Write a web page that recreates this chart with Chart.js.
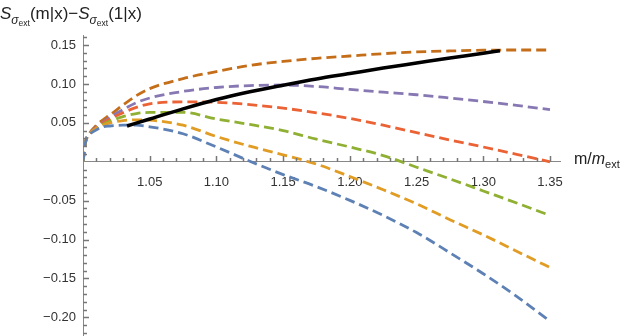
<!DOCTYPE html>
<html>
<head>
<meta charset="utf-8">
<script src="https://cdn.jsdelivr.net/npm/chart.js@4.4.0/dist/chart.umd.min.js"></script>
<style>
  body { margin: 0; background: #fff; }
  #wrap { position: relative; width: 630px; height: 336px; font-family: "Liberation Sans", Arial, sans-serif; color: #222; }
  #c { position: absolute; left: 0; top: 0; }
  .ttl { position: absolute; white-space: nowrap; font-size: 17px; line-height: 1; }
  .sub1 { font-size: 12px; position: relative; top: 5px; font-style: italic; }
  .sub2 { font-size: 8.5px; position: relative; top: 2px; font-style: normal; }
  .subx { font-size: 11px; position: relative; top: 4px; }
</style>
</head>
<body>
<div id="wrap">
  <canvas id="c" width="630" height="336"></canvas>
  <div class="ttl" style="left:0px; top:5px;"><i>S</i><span class="sub1">σ<span class="sub2">ext</span></span>(m|x)−<i>S</i><span class="sub1">σ<span class="sub2">ext</span></span>(1|x)</div>
  <div class="ttl" style="left:574px; top:151px; font-size:16px;">m/<i>m</i><span class="subx">ext</span></div>
</div>
<script>
const xValues = [1.0, 1.002, 1.005, 1.01, 1.015, 1.02, 1.03, 1.04, 1.05, 1.075, 1.10, 1.125, 1.15, 1.175, 1.20, 1.225, 1.25, 1.275, 1.30, 1.325, 1.35];

const blueVals   = [0, 0.026, 0.035, 0.041, 0.045, 0.046, 0.047, 0.047, 0.045, 0.036, 0.019, 0.0007, -0.0165, -0.032, -0.0496, -0.069, -0.091, -0.117, -0.144, -0.173, -0.205];
const orangeVals = [0, 0.026, 0.036, 0.043, 0.047, 0.050, 0.053, 0.054, 0.0535, 0.047, 0.0325, 0.020, 0.009, -0.003, -0.019, -0.036, -0.054, -0.0745, -0.094, -0.115, -0.136];
const greenVals  = [0, 0.026, 0.036, 0.043, 0.048, 0.052, 0.058, 0.062, 0.0635, 0.0635, 0.055, 0.048, 0.040, 0.029, 0.019, 0.008, -0.007, -0.022, -0.0375, -0.053, -0.069];
const redVals    = [0, 0.026, 0.036, 0.044, 0.050, 0.055, 0.063, 0.070, 0.0745, 0.077, 0.0765, 0.0735, 0.069, 0.063, 0.0557, 0.047, 0.0375, 0.028, 0.019, 0.0095, 0.0];
const purpleVals = [0, 0.026, 0.036, 0.045, 0.051, 0.057, 0.067, 0.076, 0.082, 0.0905, 0.0955, 0.098, 0.0987, 0.0968, 0.093, 0.0895, 0.0862, 0.082, 0.0775, 0.0725, 0.067];
const brownVals  = [0, 0.026, 0.037, 0.047, 0.054, 0.060, 0.073, 0.085, 0.094, 0.107, 0.116, 0.124, 0.129, 0.133, 0.136, 0.139, 0.1412, 0.1425, 0.1435, 0.1437, 0.1437];

// solid black curve
const blackX = [1.033, 1.05, 1.075, 1.10, 1.125, 1.15, 1.175, 1.20, 1.225, 1.25, 1.275, 1.30, 1.3125];
const blackY = [0.046, 0.055, 0.068, 0.080, 0.090, 0.0985, 0.1065, 0.1135, 0.1205, 0.127, 0.1335, 0.1395, 0.1428];

// tick labels
const xTicks = [1.05, 1.10, 1.15, 1.20, 1.25, 1.30, 1.35];
const yTicks = [-0.20, -0.15, -0.10, -0.05, 0.05, 0.10, 0.15];

const seriesColors = ["#5E81B5", "#E19C24", "#8FB032", "#EB6235", "#8778B3", "#C56E1A"];
const seriesVals = [blueVals, orangeVals, greenVals, redVals, purpleVals, brownVals];

const axisColor = "#888888";

// toPoints pairs x positions with values
function toPoints(xs, ys) {
  return xs.map((x, i) => ({ x: x, y: ys[i] }));
}

// Mathematica-style inward ticks (major + minor) on both axes
const tickMarks = {
  id: "tickMarks",
  afterDraw(chart) {
    const ctx = chart.ctx;
    const xs = chart.scales.x;
    const ys = chart.scales.y;
    const y0 = Math.round(ys.getPixelForValue(0));
    const x0 = Math.round(xs.getPixelForValue(1.0));
    ctx.save();
    ctx.fillStyle = "#777777";
    for (let i = 1; i <= 35; i++) {
      const px = Math.round(xs.getPixelForValue(1 + i / 100));
      const len = i % 5 === 0 ? 6 : 4;
      ctx.fillRect(px - 0.25, y0 - len, 1.5, len);
    }
    for (let j = -22; j <= 16; j++) {
      if (j === 0) continue;
      const py = Math.round(ys.getPixelForValue(j / 100));
      const len = j % 5 === 0 ? 6 : 4;
      ctx.fillRect(x0, py - 0.25, len, 1.5);
    }
    ctx.restore();
  },
};

const datasets = seriesVals.map((vals, i) => ({
  data: toPoints(xValues, vals),
  borderColor: seriesColors[i],
  borderWidth: 2.8,
  borderDash: [10, 5],
  pointRadius: 0,
  cubicInterpolationMode: "monotone",
  order: 1,
}));
datasets.push({
  data: toPoints(blackX, blackY),
  borderColor: "#000000",
  borderWidth: 3.5,
  pointRadius: 0,
  cubicInterpolationMode: "monotone",
  order: 0,
});

new Chart(document.getElementById("c"), {
  type: "line",
  data: { datasets: datasets },
  plugins: [tickMarks],
  options: {
    responsive: false,
    animation: false,
    layout: { autoPadding: false, padding: { top: 35, right: 70, bottom: 0, left: 0 } },
    plugins: { legend: { display: false }, tooltip: { enabled: false } },
    scales: {
      x: {
        type: "linear",
        min: 1.0,
        max: 1.3575,
        position: { y: 0 },
        afterFit: (scale) => {
          scale.height = 0;
          scale.paddingLeft = 0;
          scale.paddingRight = 0;
        },
        afterBuildTicks: (scale) => { scale.ticks = xTicks.map((v) => ({ value: v })); },
        grid: { display: false, drawTicks: false },
        border: { display: true, color: axisColor, width: 1 },
        ticks: {
          padding: 13,
          color: "#333",
          font: { family: "Liberation Sans", size: 13 },
          maxRotation: 0,
          callback: (v) => v.toFixed(2),
        },
      },
      y: {
        type: "linear",
        min: -0.224,
        max: 0.163,
        position: "left",
        afterFit: (scale) => {
          scale.width = 83;
          scale.paddingTop = 0;
          scale.paddingBottom = 0;
        },
        afterBuildTicks: (scale) => { scale.ticks = yTicks.map((v) => ({ value: v })); },
        grid: { display: false, drawTicks: false },
        border: { display: true, color: axisColor, width: 1 },
        ticks: {
          padding: 7,
          color: "#333",
          font: { family: "Liberation Sans", size: 13 },
          callback: (v) => (v < 0 ? "\u2212" + Math.abs(v).toFixed(2) : v.toFixed(2)),
        },
      },
    },
  },
});
</script>
</body>
</html>
